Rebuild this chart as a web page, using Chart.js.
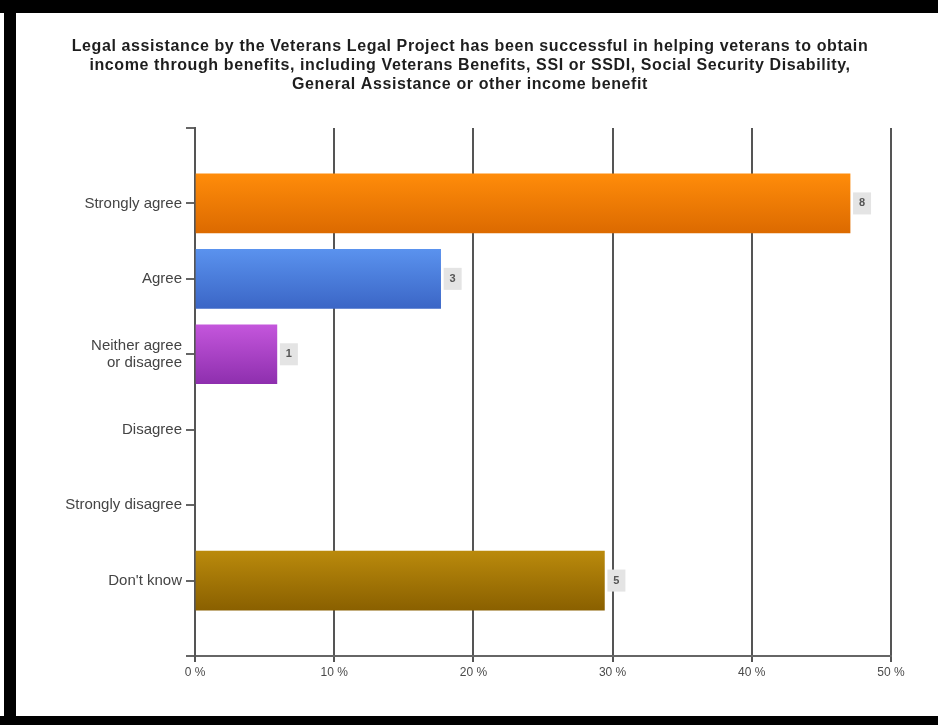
<!DOCTYPE html>
<html>
<head>
<meta charset="utf-8">
<script src="https://cdn.jsdelivr.net/npm/chart.js@4"></script>
<style>
  html, body { margin: 0; padding: 0; background: #fff; }
  #wrap { width: 938px; height: 725px; position: relative; }
</style>
</head>
<body>
<div id="wrap"><canvas id="chart" width="938" height="725"></canvas></div>
<script>
// -------------------------------
// DATA
// -------------------------------
const titleLines = [
    "Legal assistance by the Veterans Legal Project has been successful in helping veterans to obtain",
    "income through benefits, including Veterans Benefits, SSI or SSDI, Social Security Disability,",
    "General Assistance or other income benefit"
];
const categories = ["Strongly agree", "Agree", ["Neither agree", "or disagree"], "Disagree", "Strongly disagree", "Don't know"];
const counts = [8, 3, 1, 0, 0, 5];
const totalAnswers = 17;
const xTicks = [0, 10, 20, 30, 40, 50];
const topColors = ["#ff8c0a", "#5a92ee", "#c456dc", "#ba8a0c"];
const bottomColors = ["#dc6a00", "#3b66c6", "#8e2fae", "#8a6000"];
const colorIndex = [0, 1, 2, 0, 0, 3];

// percentages of the 17 respondents
const percents = counts.map(c => c / totalAnswers * 100);

// one empty slot above and below so the axis runs past the bars
const labels = [""].concat(categories, [""]);
const values = [null].concat(percents.map((p, i) => counts[i] > 0 ? p : null), [null]);
const labelCounts = [null].concat(counts, [null]);

const BAR_H = 59;

// -------------------------------
// PLUGINS
// -------------------------------
const framePlugin = {
    id: "frame",
    beforeDraw(chart) {
        const c = chart.ctx;
        c.save();
        c.fillStyle = "#fff";
        c.fillRect(0, 0, chart.width, chart.height);
        c.fillStyle = "#000";
        c.fillRect(0, 0, chart.width, 13);
        c.fillRect(4, 0, 12, chart.height);
        c.fillRect(0, 716, chart.width, chart.height - 716);
        c.restore();
    },
    afterDraw(chart) {
        // title, centred over the plot
        const c = chart.ctx;
        c.save();
        c.fillStyle = "#1e1e1e";
        c.font = "bold 16px 'Liberation Sans', Arial, sans-serif";
        c.letterSpacing = "0.6px";
        c.textAlign = "center";
        c.textBaseline = "middle";
        titleLines.forEach((t, i) => c.fillText(t, 470, 47 + i * 19));
        c.restore();
    }
};

const countPlugin = {
    id: "countBoxes",
    afterDatasetsDraw(chart) {
        const c = chart.ctx;
        const meta = chart.getDatasetMeta(0);
        c.save();
        c.font = "bold 11px 'Liberation Sans', Arial, sans-serif";
        c.textAlign = "center";
        c.textBaseline = "middle";
        meta.data.forEach((bar, i) => {
            if (values[i] == null) return;
            const x = bar.x + 3;
            c.fillStyle = "#e4e4e4";
            c.fillRect(x, bar.y - 11, 18, 22);
            c.fillStyle = "#555";
            c.fillText(String(labelCounts[i]), x + 9, bar.y);
        });
        c.restore();
    }
};

// -------------------------------
// CHART
// -------------------------------
function barFill(ctx) {
    const chart = ctx.chart;
    const i = ctx.dataIndex;
    if (!chart.chartArea || i == null || labelCounts[i] == null) return "#999";
    const ci = colorIndex[i - 1];
    const y = chart.scales.y.getPixelForValue(i);
    const g = chart.ctx.createLinearGradient(0, y - BAR_H / 2, 0, y + BAR_H / 2);
    g.addColorStop(0, topColors[ci]);
    g.addColorStop(1, bottomColors[ci]);
    return g;
}

new Chart(document.getElementById("chart"), {
    type: "bar",
    data: {
        labels: labels,
        datasets: [{
            data: values,
            backgroundColor: barFill,
            borderWidth: 0,
            barThickness: BAR_H
        }]
    },
    options: {
        indexAxis: "y",
        responsive: false,
        animation: false,
        layout: { padding: { top: 128, right: 47, left: 0, bottom: 0 } },
        plugins: {
            legend: { display: false },
            title: { display: false },
            tooltip: { enabled: false }
        },
        scales: {
            x: {
                min: 0,
                max: 50,
                afterBuildTicks(scale) { scale.ticks = xTicks.map(v => ({ value: v })); },
                afterFit(scale) { scale.height = 725 - 656; },
                ticks: {
                    callback: v => v + " %",
                    color: "#4a4a4a",
                    font: { size: 12, family: "'Liberation Sans', Arial, sans-serif" },
                    padding: 3
                },
                grid: { color: "#555", lineWidth: 2, tickLength: 6 },
                border: { color: "#666", width: 2 }
            },
            y: {
                offset: false,
                afterFit(scale) { scale.width = 195; },
                ticks: {
                    color: "#444",
                    font: { size: 15, family: "'Liberation Sans', Arial, sans-serif", lineHeight: 1.1 },
                    padding: 4,
                    autoSkip: false
                },
                grid: { offset: false, drawOnChartArea: false, color: "#666", lineWidth: 2, tickLength: 9 },
                border: { color: "#555", width: 2 }
            }
        }
    },
    plugins: [framePlugin, countPlugin]
});
</script>
</body>
</html>
